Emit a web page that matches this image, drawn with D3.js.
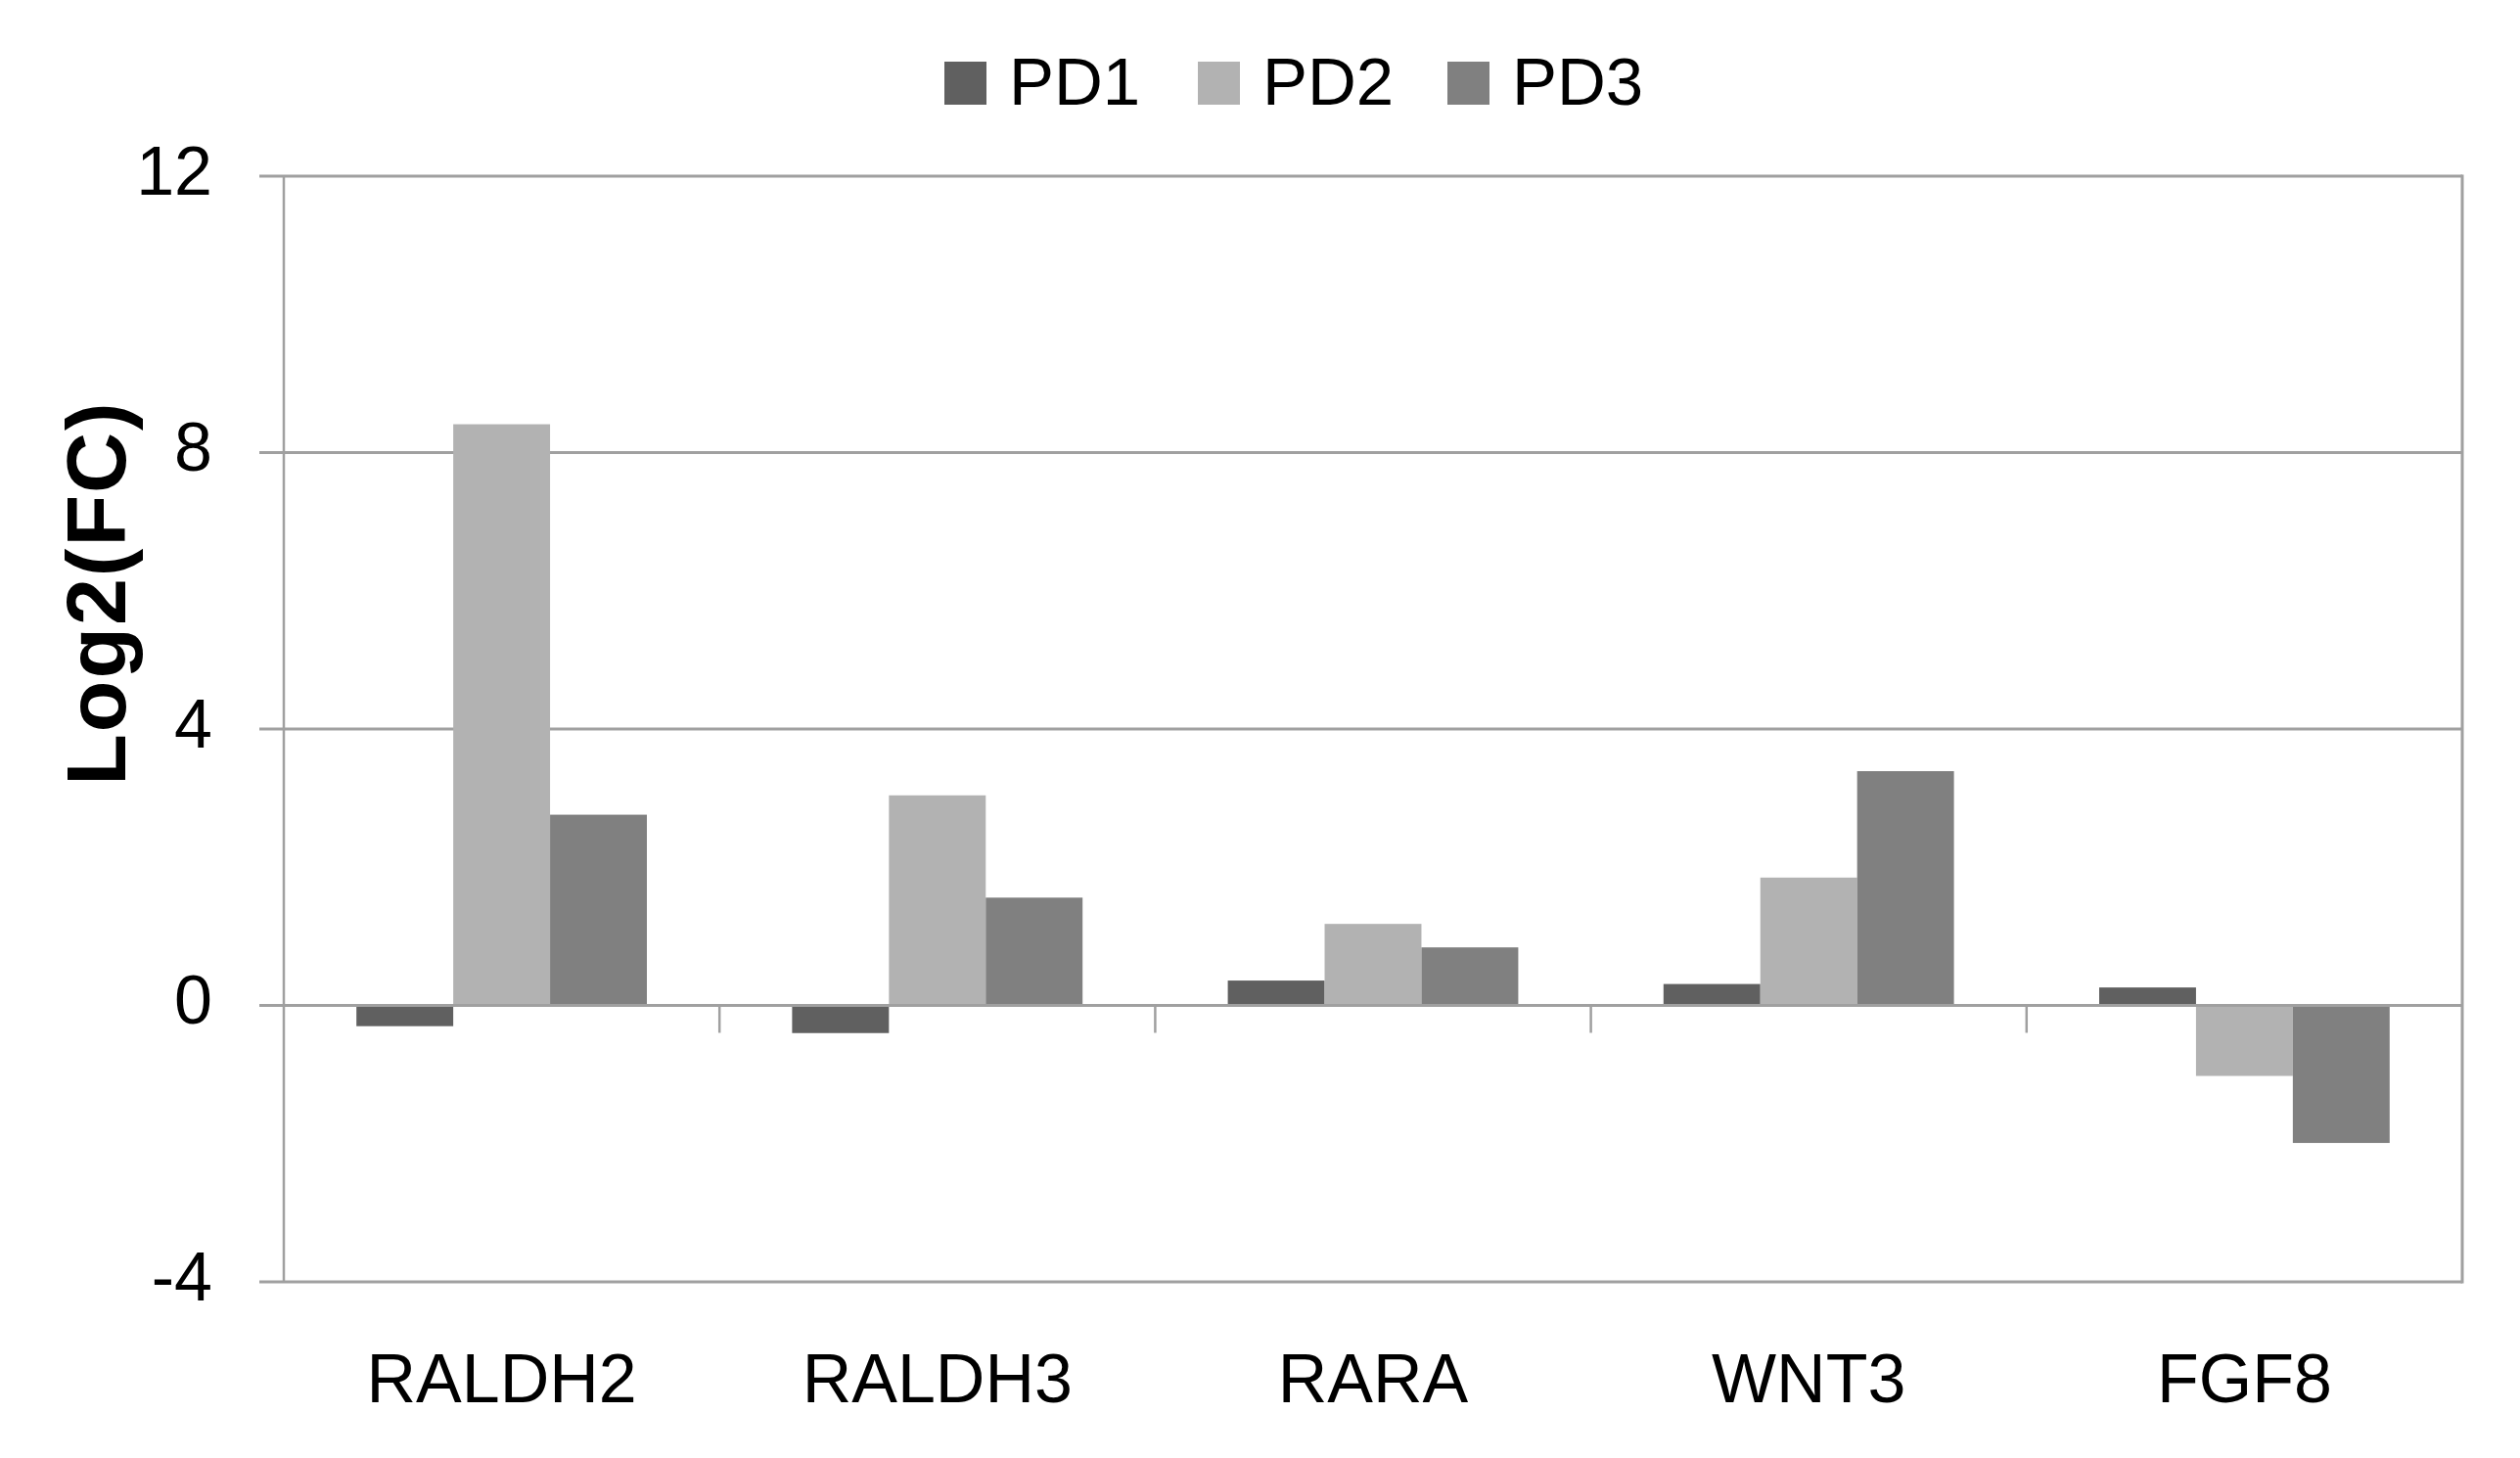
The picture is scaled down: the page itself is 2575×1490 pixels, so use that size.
<!DOCTYPE html>
<html>
<head>
<meta charset="utf-8">
<script src="https://cdn.jsdelivr.net/npm/d3@7"></script>
<style>
  html, body { margin: 0; padding: 0; background: #fff; }
  svg { display: block; }
  text { font-family: "Liberation Sans", Arial, sans-serif; fill: #000; }
</style>
</head>
<body>
<svg id="chart" width="2575" height="1490"></svg>
<script>
const categories = ["RALDH2", "RALDH3", "RARA", "WNT3", "FGF8"];
const seriesNames = ["PD1", "PD2", "PD3"];
const pd1 = [-0.30, -0.40, 0.36, 0.31, 0.26];
const pd2 = [8.41, 3.04, 1.18, 1.85, -1.02];
const pd3 = [2.76, 1.56, 0.84, 3.39, -1.99];
const yTicks = [-4, 0, 4, 8, 12];
const yTickLabels = ["-4", "0", "4", "8", "12"];
const colors = ["#606060", "#b2b2b2", "#808080"];

const seriesValues = [pd1, pd2, pd3];

const svg = d3.select("#chart");
const plotLeft = 290, plotRight = 2516, plotTop = 180, plotBottom = 1310;
const gridColor = "#a0a0a0";

const x = d3.scaleBand().domain(categories).range([plotLeft, plotRight]).paddingInner(0).paddingOuter(0);
const xs = d3.scaleBand().domain(seriesNames).range([0, x.bandwidth()]).paddingInner(0).paddingOuter(0.75);
const y = d3.scaleLinear().domain([-4, 12]).range([plotBottom, plotTop]);

// gridlines (with outward ticks)
svg.append("g").selectAll("line").data(yTicks).join("line")
  .attr("x1", plotLeft - 25).attr("x2", plotRight)
  .attr("y1", d => y(d)).attr("y2", d => y(d))
  .attr("stroke", gridColor).attr("stroke-width", 3);

// y axis labels via d3.axisLeft
const yAxis = d3.axisLeft(y).tickValues(yTicks).tickSize(0).tickPadding(73)
  .tickFormat((d, i) => yTickLabels[i]);
const gy = svg.append("g").attr("transform", `translate(${plotLeft},0)`).call(yAxis);
gy.select(".domain").remove();
gy.selectAll("text").attr("font-size", 70).attr("font-family", "'Liberation Sans', Arial, sans-serif")
  .attr("fill", "#000").attr("dy", "0.26em");

// left axis line and right border
svg.append("line").attr("x1", plotLeft).attr("x2", plotLeft).attr("y1", plotTop).attr("y2", plotBottom)
  .attr("stroke", gridColor).attr("stroke-width", 2.5);
svg.append("line").attr("x1", plotRight).attr("x2", plotRight).attr("y1", plotTop - 1.5).attr("y2", plotBottom + 1.5)
  .attr("stroke", gridColor).attr("stroke-width", 3);

// bars
const barData = [];
categories.forEach((c, i) => {
  seriesNames.forEach((s, j) => {
    barData.push({ cat: c, series: s, value: seriesValues[j][i], color: colors[j] });
  });
});
svg.append("g").selectAll("rect").data(barData).join("rect")
  .attr("x", d => x(d.cat) + xs(d.series))
  .attr("width", xs.bandwidth())
  .attr("y", d => y(Math.max(0, d.value)))
  .attr("height", d => Math.abs(y(d.value) - y(0)))
  .attr("fill", d => d.color);

// zero axis line with category boundary ticks
svg.append("line").attr("x1", plotLeft).attr("x2", plotRight).attr("y1", y(0)).attr("y2", y(0))
  .attr("stroke", gridColor).attr("stroke-width", 3);
const boundaries = categories.slice(1).map(c => x(c));
svg.append("g").selectAll("line").data(boundaries).join("line")
  .attr("x1", d => d).attr("x2", d => d)
  .attr("y1", y(0)).attr("y2", y(0) + 28)
  .attr("stroke", gridColor).attr("stroke-width", 2.5);

// category labels via axisBottom
const xAxis = d3.axisBottom(x).tickSize(0).tickPadding(0);
const gx = svg.append("g").attr("transform", `translate(0,${plotBottom})`).call(xAxis);
gx.select(".domain").remove();
gx.selectAll("text").attr("font-size", 70).attr("font-family", "'Liberation Sans', Arial, sans-serif")
  .attr("fill", "#000").attr("dy", null).attr("y", 1433 - plotBottom);

// y title
svg.append("text")
  .attr("transform", "translate(128,606) rotate(-90)")
  .attr("text-anchor", "middle")
  .attr("font-size", 86).attr("font-weight", "bold")
  .attr("letter-spacing", 2)
  .text("Log2(FC)");

// legend
const legendX = [965, 1224, 1479];
const lg = svg.append("g").selectAll("g").data(seriesNames).join("g")
  .attr("transform", (d, i) => `translate(${legendX[i]},0)`);
lg.append("rect").attr("x", 0).attr("y", 63).attr("width", 43).attr("height", 44)
  .attr("fill", (d, i) => colors[i]);
lg.append("text").attr("x", 66).attr("y", 107).attr("font-size", 69).text(d => d);
</script>
</body>
</html>
